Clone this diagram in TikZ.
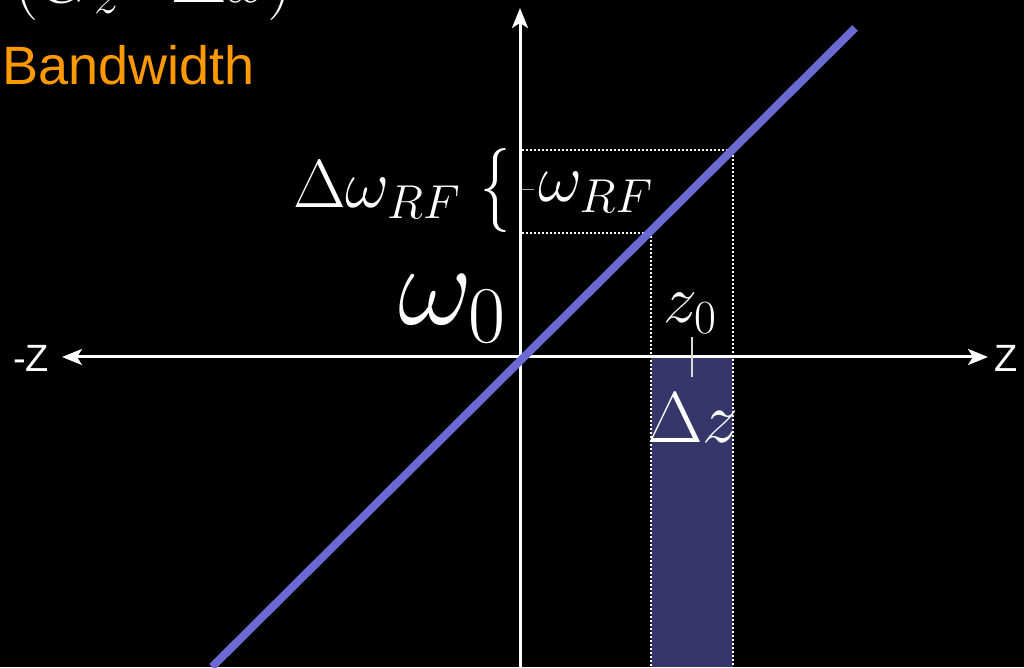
\RequirePackage{fix-cm}
\documentclass[tikz,border=0pt]{standalone}
\usepackage{fontspec}
\usepackage{graphicx}
\setsansfont{Liberation Sans}
\usetikzlibrary{arrows.meta}
\definecolor{lineblue}{RGB}{106,106,210}
\definecolor{bandfill}{RGB}{54,54,106}
\definecolor{bworange}{RGB}{255,153,0}
\tikzset{
  axis/.style={white, line width=3pt, -{Stealth[length=20pt,width=16pt,inset=5pt]}},
  dotline/.style={white, line width=1.5pt, dash pattern=on 2pt off 2pt},
  mlabel/.style={white, inner sep=0pt, font=\fontsize{68}{80}\selectfont},
  slabel/.style={white, inner sep=0pt, font=\sffamily\fontsize{38}{44}\selectfont},
}
\begin{document}
\begin{tikzpicture}[x=1pt,y=1pt]
\fill[black] (0,0) rectangle (1024,667);
\useasboundingbox (0,0) rectangle (1024,667);
% band
\fill[bandfill] (651,0) rectangle (733,310);
% dotted guides
\coordinate (tl) at (522,517);
\coordinate (tr) at (733,517);
\coordinate (br) at (733,0);
\coordinate (ml) at (522,434);
\coordinate (mr) at (651,434);
\coordinate (bl) at (651,0);
\draw[dotline] (tl) -- (tr) -- (br);
\draw[dotline] (ml) -- (mr) -- (bl);
% axes
\coordinate (o) at (520,310);
\coordinate (vbot) at (520,0);
\coordinate (vtop) at (520,659);
\coordinate (hleft) at (62,310);
\coordinate (hright) at (988,310);
\draw[axis] (vbot) -- (vtop);
\draw[axis] (o) -- (hleft);
\draw[axis] (o) -- (hright);
% line
\coordinate (la) at (212,0);
\coordinate (lb) at (855,639);
\draw[lineblue, line width=8pt] (la) -- (lb);
% ticks
\coordinate (t1a) at (522,477);
\coordinate (t1b) at (534,477);
\draw[gray!70, line width=1pt] (t1a) -- (t1b);
\coordinate (t2a) at (692,330);
\coordinate (t2b) at (692,290);
\draw[white!85!black, line width=1.2pt] (t2a) -- (t2b);
% labels
\node[mlabel, anchor=base west] (dwrf) at (293,459) {$\Delta\omega_{RF}$};
\node[white, inner sep=0pt, anchor=center] (brace) at (495,476) {\resizebox*{30pt}{84pt}{$\{$}};
\node[mlabel, anchor=base west] (wrf) at (538,465) {$\omega_{RF}$};
\node[white, inner sep=0pt, anchor=base west, font=\fontsize{115}{130}\selectfont] (w0) at (398,342) {$\omega_0$};
\node[mlabel, anchor=base west] (z0) at (663,344) {$z_0$};
\node[white, inner sep=0pt, anchor=base west, font=\fontsize{72}{84}\selectfont] (dz) at (647,225) {$\Delta z$};
\node[white, inner sep=0pt, anchor=base west, font=\fontsize{72}{84}\selectfont] (top) at (13,664) {$(G_z\cdot\Delta x)$};
\node[bworange, inner sep=0pt, anchor=base west, font=\sffamily\fontsize{54}{60}\selectfont] (bw) at (2,582) {Bandwidth};
\node[slabel, anchor=base west] (mz) at (13,295) {-Z};
\node[slabel, anchor=base west] (pz) at (994,295) {Z};
\end{tikzpicture}
\end{document}
